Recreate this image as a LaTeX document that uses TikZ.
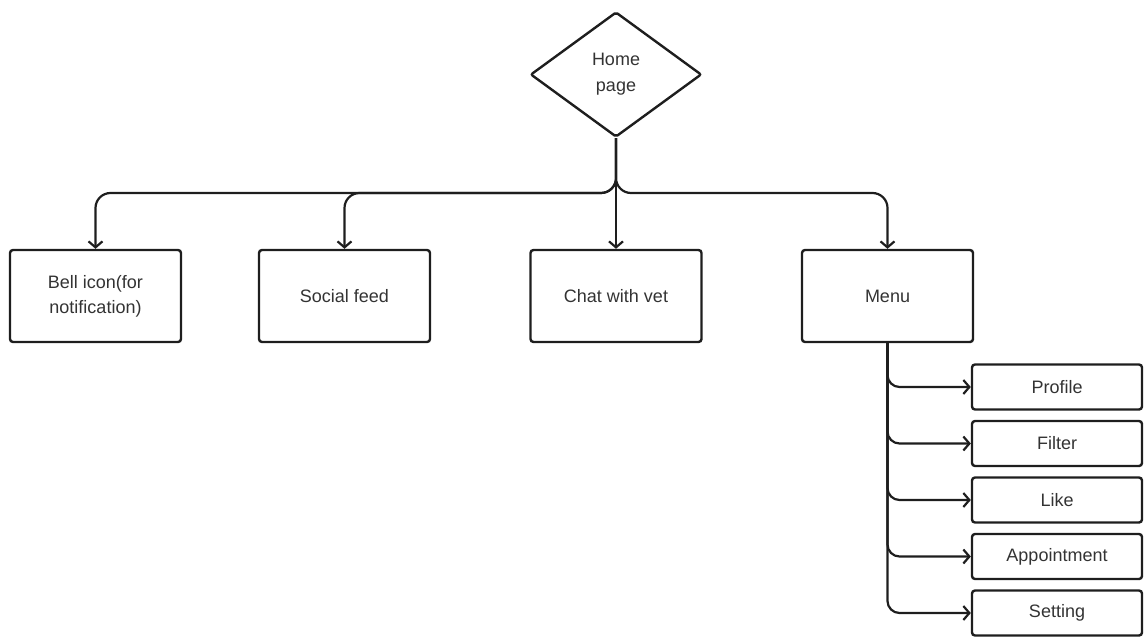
\documentclass[tikz,border=0pt]{standalone}
\usepackage{fontspec}
\setmainfont{Liberation Sans}
\usetikzlibrary{shapes.geometric,arrows.meta}
\definecolor{ink}{HTML}{1E1E1E}
\definecolor{txt}{HTML}{333333}
\tikzset{
  box/.style={draw=ink, line width=2.4pt, rounded corners=3pt, minimum width=171pt, minimum height=92pt, inner sep=0pt, text=txt, align=center, font=\fontsize{18}{25}\selectfont},
  subbox/.style={draw=ink, line width=2.4pt, rounded corners=3pt, minimum width=170pt, minimum height=45pt, inner sep=0pt, text=txt, align=center, font=\fontsize{18}{25}\selectfont},
  dia/.style={draw=ink, line width=2.4pt, diamond, rounded corners=2pt, minimum width=171pt, minimum height=125pt, inner sep=0pt, text=txt, align=center, font=\fontsize{18}{26}\selectfont},
  conn/.style={draw=ink, line width=2.2pt, -{Straight Barb[length=6pt,width=14pt,line width=2.2pt]}},
}
\begin{document}
\begin{tikzpicture}[x=1pt,y=-1pt]
\useasboundingbox (0,0) rectangle (1147,637);
\node[dia] (home) at (616,74.5) {Home\\page};
\node[box] (bell) at (95.5,296) {Bell icon(for\\notification)};
\node[box] (social) at (344.5,296) {Social feed};
\node[box] (chat) at (616,296) {Chat with vet};
\node[box] (menu) at (887.5,296) {Menu};
\node[subbox] (profile) at (1057,387) {Profile};
\node[subbox] (filter) at (1057,443.5) {Filter};
\node[subbox] (like) at (1057,500) {Like};
\node[subbox] (appt) at (1057,556.5) {Appointment};
\node[subbox] (setting) at (1057,613) {Setting};
\coordinate (hub) at (616,193);
\draw[conn, rounded corners=15pt] (home.south) -- (hub) -| (bell.north);
\draw[conn, rounded corners=15pt] (home.south) -- (hub) -| (social.north);
\draw[conn] (home.south) -- (chat.north);
\draw[conn, rounded corners=15pt] (home.south) -- (hub) -| (menu.north);
\foreach \t in {profile,filter,like,appt,setting}
  \draw[conn, rounded corners=12pt] (menu.south) |- (\t.west);
\end{tikzpicture}
\end{document}
